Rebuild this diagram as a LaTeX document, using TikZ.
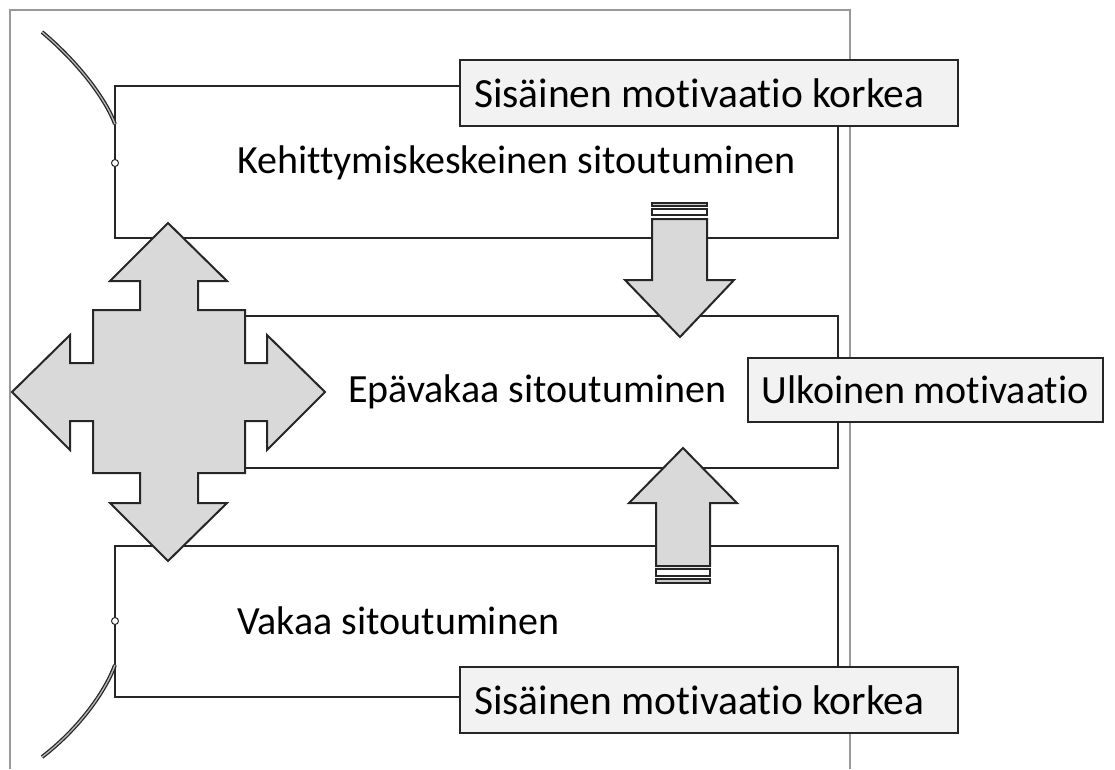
\documentclass[tikz,border=0pt]{standalone}
\usepackage{fontspec}
\setmainfont{Carlito}[Ligatures=NoCommon]
\usetikzlibrary{positioning,calc}
\pgfdeclarelayer{background}
\pgfsetlayers{background,main}
\tikzset{
    label text/.style = {
        font=\fontsize{40}{44}\selectfont,
        inner sep=0pt,
        },
    motive/.style = {
        draw = black!85,
        fill = gray!10,
        line width = 2pt,
        font=\fontsize{40}{44}\selectfont,
        inner xsep=14pt,
        inner ysep=0pt,
        align=flush left,
        },
    inner motive/.style = {
        motive,
        font=\fontsize{41.5}{44}\selectfont,
        text width=470pt,
        minimum height=66pt,
        },
    bracket/.style = {
        draw = black!85,
        line width = 2pt,
        },
    frame/.style = {
        draw = gray!80,
        line width = 2pt,
        },
    big arrow/.style = {
        draw = black!85,
        fill = gray!30,
        line width = 2pt,
        line join = miter,
        },
    stripe/.style = {
        draw = black!85,
        line width = 1.5pt,
        },
    hinge/.style = {
        draw = black!85,
        double = gray!55,
        double distance = 1.3pt,
        line width = 1.3pt,
        },
    pivot/.style = {
        draw = black!85,
        fill = white,
        circle,
        line width = 1pt,
        minimum size = 7pt,
        inner sep = 0pt,
        }
}
\begin{document}
\begin{tikzpicture}[x=1pt, y=-1pt]
    \useasboundingbox (0,0) rectangle (1115,769);

    % motivation boxes
    \node[inner motive] (m-top) at (709,93) {Sisäinen motivaatio korkea};
    \node[motive, text width=327pt, minimum height=64pt] (m-out) at (925,390) {Ulkoinen motivaatio};
    \node[inner motive] (m-bot) at (709,700) {Sisäinen motivaatio korkea};

    % level texts
    \node[label text, anchor=west] (t-k) at (237,163) {Kehittymiskeskeinen sitoutuminen};
    \node[label text, anchor=west] (t-e) at (348,392) {Epävakaa sitoutuminen};
    \node[label text, anchor=west] (t-v) at (237,621) {Vakaa sitoutuminen};

    % corners of the three levels
    \coordinate (k-nw) at (115,86);
    \coordinate (k-sw) at (115,238);
    \coordinate (k-se) at (838,238);
    \coordinate (e-nw) at (245,316);
    \coordinate (e-ne) at (838,316);
    \coordinate (e-se) at (838,468);
    \coordinate (e-sw) at (245,468);
    \coordinate (v-nw) at (115,546);
    \coordinate (v-ne) at (838,546);
    \coordinate (v-sw) at (115,697);
    \coordinate (h-k) at (42,32);
    \coordinate (h-v) at (42,757);

    % pivots
    \node[pivot] (p-k) at (115,163) {};
    \node[pivot] (p-v) at (115,621) {};

    \begin{pgfonlayer}{background}
        % outer frame, open at the bottom
        \draw[frame] (10,769) -- (10,10) -- (850,10) -- (850,769);
        % brackets
        \path[bracket] (m-top.west |- k-nw) -- (k-nw) -- (k-sw) -- (k-se) -- (k-se |- m-top.south);
        \path[bracket] (e-nw) -- (e-ne) -- (e-se) -- (e-sw);
        \path[bracket] (m-bot.west |- v-sw) -- (v-sw) -- (v-nw) -- (v-ne) -- (v-ne |- m-bot.north);
        % hinges
        \draw[hinge] (h-k) .. controls (80,64) and (106,100) .. (k-nw |- 0,124);
        \draw[hinge] (v-nw |- 0,665) .. controls (106,690) and (80,728) .. (h-v);
    \end{pgfonlayer}

    % four-way arrow
    \path[big arrow] (168,223) -- (227,281) -- (198,281) -- (198,310) -- (245,310)
        -- (245,363) -- (267,363) -- (267,335) -- (325,392) -- (267,450) -- (267,421)
        -- (245,421) -- (245,473) -- (198,473) -- (198,503) -- (227,503) -- (168,561)
        -- (110,503) -- (140,503) -- (140,473) -- (93,473) -- (93,421) -- (70,421)
        -- (70,450) -- (12,392) -- (70,335) -- (70,363) -- (93,363) -- (93,310)
        -- (140,310) -- (140,281) -- (110,281) -- cycle;

    % down arrow
    \path[stripe, fill=gray!40] (652,203) rectangle (707,206);
    \path[stripe, fill=white] (652,209) rectangle (707,215);
    \path[big arrow] (652,219) -- (707,219) -- (707,280) -- (734,280) -- (680,337)
        -- (625,280) -- (652,280) -- cycle;

    % up arrow
    \path[stripe, fill=white] (656,569) rectangle (710,576);
    \path[stripe, fill=gray!40] (656,579) rectangle (710,583);
    \path[big arrow] (656,566) -- (710,566) -- (710,503) -- (737,503) -- (683,448)
        -- (629,503) -- (656,503) -- cycle;
\end{tikzpicture}
\end{document}
